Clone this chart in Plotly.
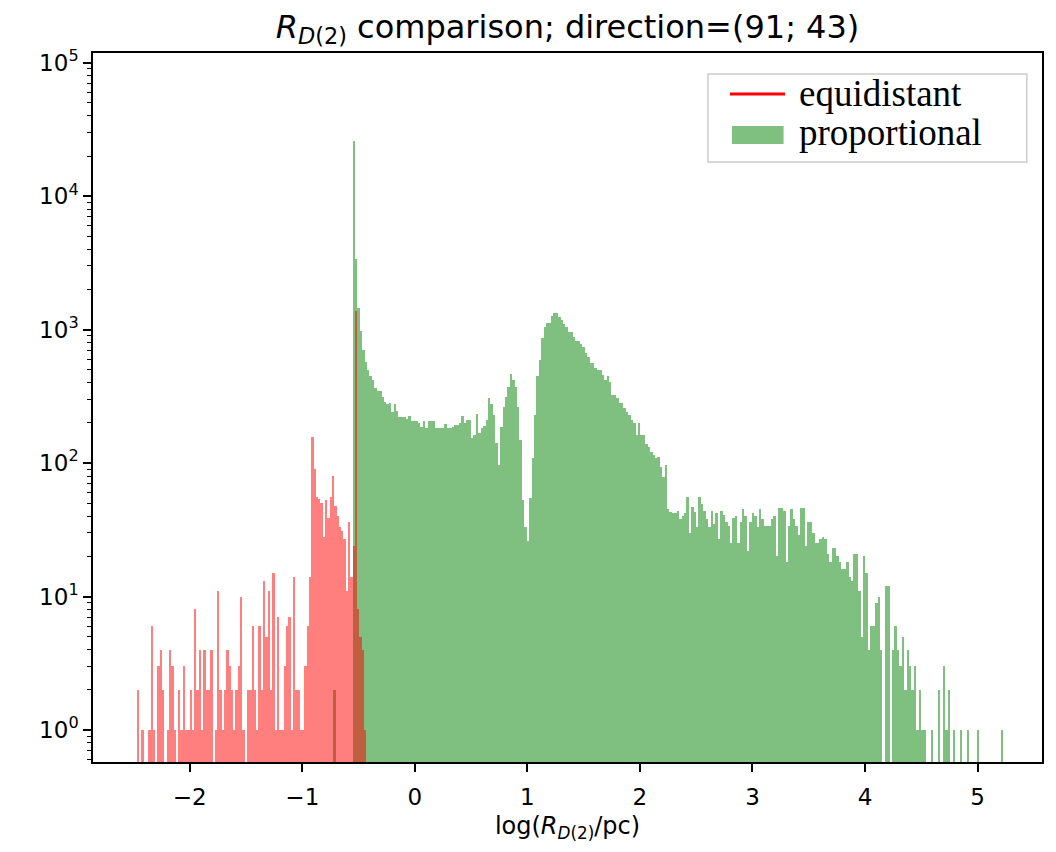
import numpy as np
import plotly.graph_objects as go

# histogram of log(R_D(2)/pc), equidistant sampling (100 bins)
equidistant_start = -2.471
equidistant_width = 0.0204
equidistant_counts = [
    2, 0, 1, 0, 0, 1, 6, 1, 0, 3,
    4, 2, 0, 1, 4, 3, 1, 0, 2, 1,
    3, 1, 1, 2, 1, 8, 2, 4, 1, 4,
    2, 2, 4, 0, 1, 11, 2, 1, 2, 4,
    3, 2, 1, 2, 3, 10, 1, 0, 2, 2,
    6, 2, 1, 6, 2, 13, 5, 11, 2, 15,
    1, 7, 1, 1, 3, 6, 7, 1, 14, 2,
    2, 1, 1, 3, 6, 14, 158, 91, 56, 54,
    50, 28, 53, 39, 56, 80, 48, 40, 33, 31,
    27, 11, 36, 14, 24, 1370, 8, 5, 4, 1,
]

# histogram of log(R_D(2)/pc), proportional sampling
proportional_start = -0.726
proportional_width = 0.0215
proportional_counts = [
    2, 0, 0, 0, 0, 0, 0, 0, 26000, 3400,
    1450, 970, 708, 576, 501, 453, 422, 368, 349, 344,
    315, 289, 279, 283, 243, 279, 246, 223, 223, 220,
    215, 227, 208, 208, 205, 201, 188, 208, 184, 205,
    205, 205, 184, 184, 184, 184, 197, 184, 184, 188,
    194, 194, 201, 227, 201, 212, 212, 155, 163, 235,
    169, 184, 190, 212, 310, 279, 231, 142, 97, 188,
    265, 315, 374, 469, 422, 374, 265, 150, 53, 33,
    26, 55, 110, 231, 453, 596, 873, 1055, 1130, 1130,
    1275, 1322, 1322, 1253, 1189, 1109, 1055, 968, 968, 888,
    815, 815, 774, 735, 673, 629, 566, 566, 519, 501,
    501, 460, 422, 453, 408, 326, 326, 310, 284, 284,
    260, 243, 231, 212, 198, 163, 198, 163, 163, 140,
    131, 122, 114, 110, 111, 94, 78, 96, 45, 43,
    42, 42, 44, 38, 40, 42, 56, 30, 47, 43,
    33, 56, 49, 44, 38, 33, 44, 35, 42, 27,
    44, 41, 36, 34, 25, 39, 40, 25, 36, 45,
    40, 22, 36, 42, 40, 33, 45, 38, 34, 34,
    34, 38, 40, 20, 46, 46, 44, 18, 34, 45,
    38, 34, 29, 46, 46, 24, 36, 36, 30, 25,
    25, 27, 28, 27, 21, 18, 23, 23, 20, 18,
    16, 16, 18, 14, 13, 21, 21, 11, 5, 20,
    15, 4, 6, 6, 9, 10, 4, 0, 12, 12,
    0, 4, 6, 4, 3, 5, 2, 4, 3, 2,
    3, 1, 2, 1, 1, 0, 0, 1, 0, 0,
    2, 0, 3, 1, 2, 0, 1, 0, 0, 1,
    0, 0, 1, 0, 0, 0, 1, 0, 0, 0,
    0, 0, 0, 0, 0, 0, 1,
]

x_ticks = [-2, -1, 0, 1, 2, 3, 4, 5]
y_ticks = [1, 10, 100, 1000, 10000, 100000]
y_tick_labels = ["10<sup>%d</sup>" % k for k in range(6)]

RED = "rgba(255,0,0,0.5)"
GREEN = "rgba(0,128,0,0.5)"


def bin_centers(start, width, n):
    return start + width * (np.arange(n) + 0.5)


def no_zeros(counts):
    # empty bins are not drawn on a log axis
    return [c if c > 0 else None for c in counts]


fig = go.Figure()
fig.add_trace(
    go.Bar(
        x=bin_centers(proportional_start, proportional_width, len(proportional_counts)),
        y=no_zeros(proportional_counts),
        width=proportional_width,
        marker=dict(color=GREEN, line=dict(width=0)),
        name="proportional",
    )
)
fig.add_trace(
    go.Bar(
        x=bin_centers(equidistant_start, equidistant_width, len(equidistant_counts)),
        y=no_zeros(equidistant_counts),
        width=equidistant_width,
        marker=dict(color=RED, line=dict(width=0)),
        name="equidistant",
    )
)

minor_y = [m * 10 ** k for k in range(-1, 6) for m in range(2, 10)]

# the page body adds an 8px margin, so the figure is 8px smaller than the window
fig.update_layout(
    width=1048,
    height=844,
    margin=dict(l=85, r=14, t=45, b=90),
    plot_bgcolor="white",
    paper_bgcolor="white",
    barmode="overlay",
    bargap=0,
    showlegend=False,
    font=dict(family="DejaVu Sans", color="black", size=23),
    title=dict(
        text="<i>R</i><sub><i>D</i>(2)</sub> comparison; direction=(91; 43)",
        x=0.5,
        xref="paper",
        xanchor="center",
        y=0.978,
        yref="container",
        yanchor="middle",
        font=dict(size=32),
    ),
    xaxis=dict(
        range=[-2.86, 5.573],
        tickvals=x_ticks,
        ticks="outside",
        ticklen=8,
        tickwidth=1.5,
        tickcolor="black",
        ticklabelstandoff=6,
        showline=True,
        linewidth=1.5,
        linecolor="black",
        mirror=True,
        showgrid=False,
        zeroline=False,
        automargin=False,
        tickfont=dict(size=23),
        title=dict(
            text="log(<i>R</i><sub><i>D</i>(2)</sub>/pc)",
            font=dict(size=24),
            standoff=8,
        ),
    ),
    yaxis=dict(
        type="log",
        range=[-0.24, 5.073],
        tickvals=y_ticks,
        ticktext=y_tick_labels,
        ticks="outside",
        ticklen=8,
        tickwidth=1.5,
        tickcolor="black",
        minor=dict(tickvals=minor_y, ticks="outside", ticklen=4, tickwidth=1, tickcolor="black"),
        showline=True,
        linewidth=1.5,
        linecolor="black",
        mirror=True,
        showgrid=False,
        zeroline=False,
        automargin=False,
        tickfont=dict(size=23),
    ),
)

# legend drawn by hand: red line for equidistant, green patch for proportional
fig.add_shape(type="rect", xref="paper", yref="paper", x0=0.648, x1=0.984, y0=0.8463, y1=0.9704,
              line=dict(color="#cccccc", width=1.5), fillcolor="rgba(255,255,255,0.8)")
fig.add_shape(type="line", xref="paper", yref="paper", x0=0.6712, x1=0.7292, y0=0.9422, y1=0.9422,
              line=dict(color="red", width=3))
fig.add_shape(type="rect", xref="paper", yref="paper", x0=0.6733, x1=0.7277, y0=0.8716, y1=0.8970,
              line=dict(width=0), fillcolor=GREEN)
legend_font = dict(family="Liberation Serif", size=37, color="black")
fig.add_annotation(text="equidistant", xref="paper", yref="paper", x=0.7418, y=0.9422,
                   xanchor="left", yanchor="middle", showarrow=False, font=legend_font)
fig.add_annotation(text="proportional", xref="paper", yref="paper", x=0.7418, y=0.8872,
                   xanchor="left", yanchor="middle", showarrow=False, font=legend_font)

fig.write_html("out.html")
